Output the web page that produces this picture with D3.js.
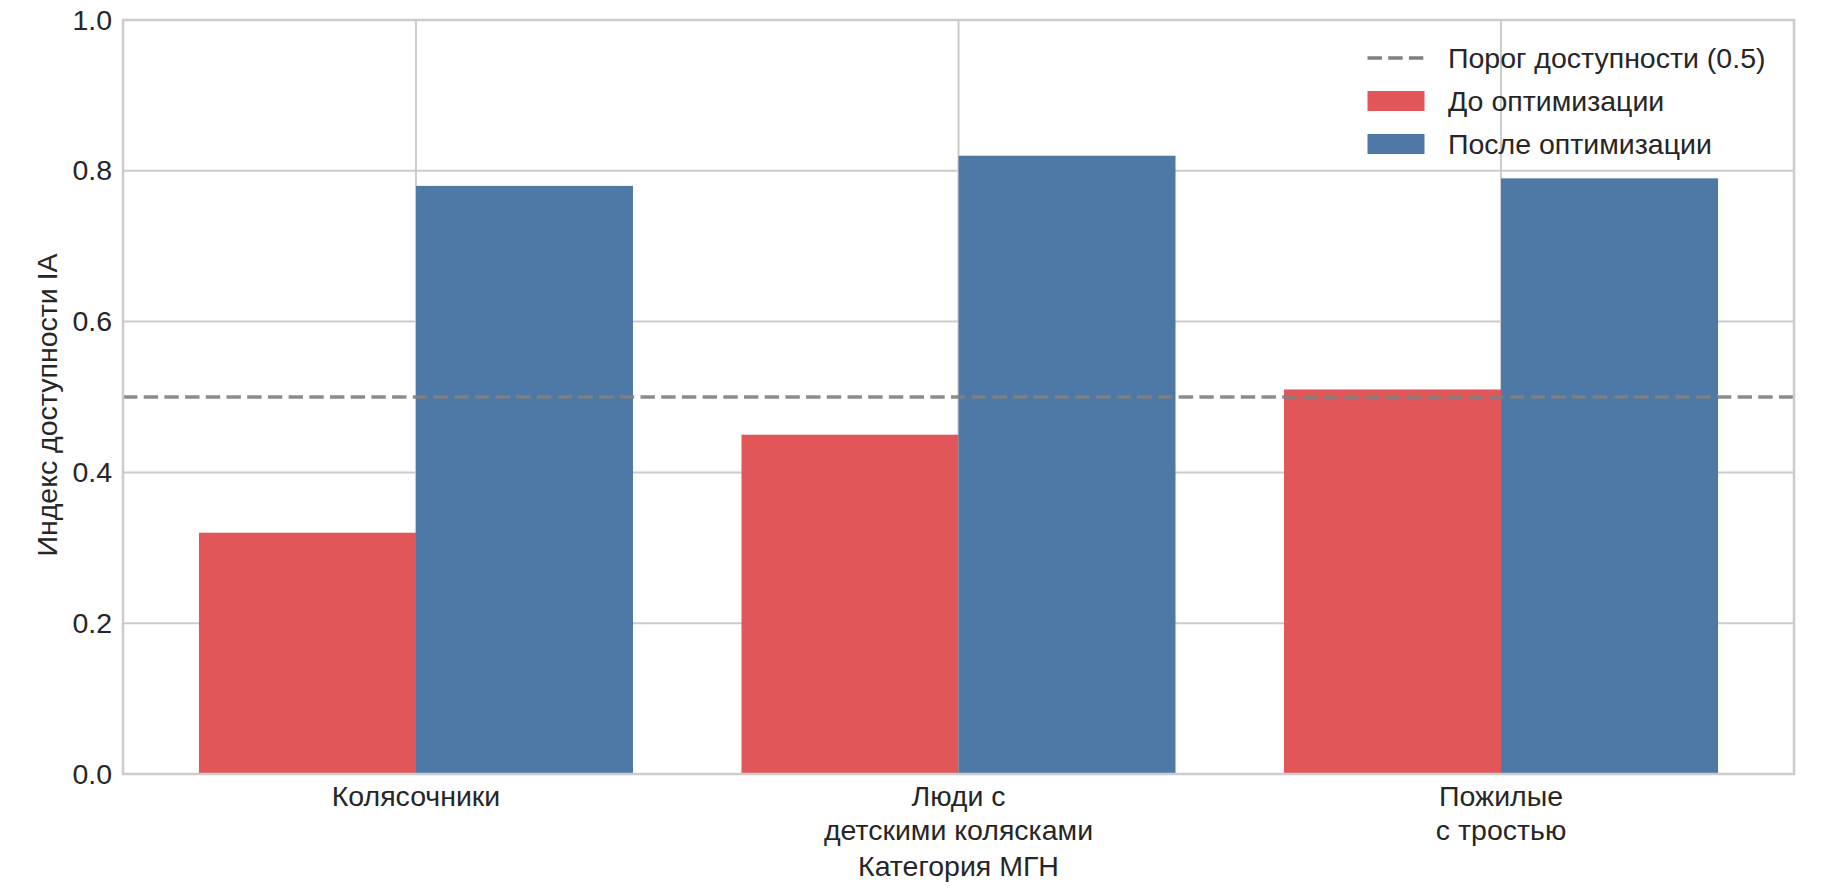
<!DOCTYPE html>
<html>
<head>
<meta charset="utf-8">
<script src="https://cdn.jsdelivr.net/npm/d3@7"></script>
<style>
  body { margin: 0; background: #fff; }
  svg text { font-family: "Liberation Sans", Arial, sans-serif; fill: #262626; }
</style>
</head>
<body>
<div id="chart"></div>
<script>
// ---------------------------------------
// data
const categories = ["Колясочники", "Люди с\nдетскими колясками", "Пожилые\nс тростью"];
const beforeValues = [0.32, 0.45, 0.51];
const afterValues = [0.78, 0.82, 0.79];
const seriesNames = ["До оптимизации", "После оптимизации"];
const thresholdValue = 0.5;
const thresholdLabel = "Порог доступности (0.5)";
const yTicks = [0.0, 0.2, 0.4, 0.6, 0.8, 1.0];
const xTitle = "Категория МГН";
const yTitle = "Индекс доступности IA";

const colors = {before: "#e15759", after: "#4e79a7"};
const fontSize = "28.5px";
const dashPattern = "14.4,6.3";

// ---------------------------------------
// svg params
const margin = {top: 20, right: 37, bottom: 117, left: 123};
const width = 1831 - margin.left - margin.right;
const height = 891 - margin.top - margin.bottom;

const svg = d3.select("#chart")
    .append("svg")
    .attr("width", width + margin.left + margin.right)
    .attr("height", height + margin.top + margin.bottom)
    .append("g")
    .attr("transform", "translate(" + margin.left + "," + margin.top + ")");

// scales
const x0 = d3.scaleBand()
    .domain(categories)
    .range([0, width])
    .paddingInner(0.2)
    .paddingOuter(0.14);

const x1 = d3.scaleBand()
    .domain(["before", "after"])
    .range([0, x0.bandwidth()]);

const y = d3.scaleLinear()
    .domain([0, 1])
    .range([height, 0]);

// ---------------------------------------
// grid (behind bars)
svg.append("g")
    .selectAll("line")
    .data(yTicks)
    .enter()
    .append("line")
    .attr("x1", 0)
    .attr("x2", width)
    .attr("y1", (d) => y(d))
    .attr("y2", (d) => y(d))
    .attr("stroke", "#cccccc")
    .attr("stroke-width", 2);

svg.append("g")
    .selectAll("line")
    .data(categories)
    .enter()
    .append("line")
    .attr("x1", (d) => x0(d) + x0.bandwidth()/2)
    .attr("x2", (d) => x0(d) + x0.bandwidth()/2)
    .attr("y1", 0)
    .attr("y2", height)
    .attr("stroke", "#cccccc")
    .attr("stroke-width", 2);

// ---------------------------------------
// bars
const rows = categories.map((c, i) => ({cat: c, before: beforeValues[i], after: afterValues[i]}));

const group = svg.append("g")
    .selectAll("g")
    .data(rows)
    .enter()
    .append("g")
    .attr("transform", (d) => "translate(" + x0(d.cat) + ",0)");

group.selectAll("rect")
    .data((d) => ["before", "after"].map((k) => ({key: k, value: d[k]})))
    .enter()
    .append("rect")
    .attr("x", (d) => x1(d.key))
    .attr("y", (d) => y(d.value))
    .attr("width", x1.bandwidth())
    .attr("height", (d) => height - y(d.value))
    .attr("fill", (d) => colors[d.key]);

// threshold line
svg.append("line")
    .attr("x1", 0)
    .attr("x2", width)
    .attr("y1", y(thresholdValue))
    .attr("y2", y(thresholdValue))
    .attr("stroke", "#808080")
    .attr("stroke-opacity", 0.9)
    .attr("stroke-width", 3.6)
    .attr("stroke-dasharray", dashPattern);

// ---------------------------------------
// axes
const yAxis = svg.append("g")
    .call(d3.axisLeft(y).tickValues(yTicks).tickFormat(d3.format(".1f")).tickSize(0).tickPadding(11));
yAxis.select(".domain").remove();
yAxis.selectAll("text").style("font-size", fontSize).attr("fill", "#262626");

const xAxis = svg.append("g")
    .attr("transform", "translate(0," + height + ")")
    .call(d3.axisBottom(x0).tickSize(0).tickPadding(12));
xAxis.select(".domain").remove();
xAxis.selectAll("text")
    .style("font-size", fontSize)
    .attr("fill", "#262626")
    .attr("dy", null)
    .each(function(d) {
      const t = d3.select(this);
      const lines = d.split("\n");
      t.text(null);
      lines.forEach((line, i) => {
        t.append("tspan")
            .attr("x", 0)
            .attr("dy", i === 0 ? "0.71em" : "1.2em")
            .text(line);
      });
    });

// frame
svg.append("rect")
    .attr("width", width)
    .attr("height", height)
    .attr("fill", "none")
    .attr("stroke", "#cccccc")
    .attr("stroke-width", 2.5);

// axis titles
svg.append("text")
    .attr("x", width/2)
    .attr("y", 876 - margin.top)
    .attr("text-anchor", "middle")
    .style("font-size", fontSize)
    .text(xTitle);

svg.append("text")
    .attr("transform", "translate(" + (56.5 - margin.left) + "," + (height/2 + 8) + ") rotate(-90)")
    .attr("text-anchor", "middle")
    .style("font-size", fontSize)
    .text(yTitle);

// ---------------------------------------
// legend
const legendItems = [
  {label: thresholdLabel, type: "line"},
  {label: seriesNames[0], type: "before"},
  {label: seriesNames[1], type: "after"}
];

const legend = svg.append("g")
    .attr("transform", "translate(" + (1367.5 - margin.left) + "," + (58 - margin.top) + ")");

const item = legend.selectAll("g")
    .data(legendItems)
    .enter()
    .append("g")
    .attr("transform", (d, i) => "translate(0," + i*43 + ")");

item.each(function(d) {
  const g = d3.select(this);
  if (d.type === "line") {
    g.append("line")
        .attr("x1", 0)
        .attr("x2", 57)
        .attr("stroke", "#808080")
        .attr("stroke-width", 3.6)
        .attr("stroke-dasharray", dashPattern);
  } else {
    g.append("rect")
        .attr("x", 0)
        .attr("y", -10)
        .attr("width", 57)
        .attr("height", 20)
        .attr("fill", colors[d.type]);
  }
});

item.append("text")
    .attr("x", 80.5)
    .attr("dy", "0.35em")
    .style("font-size", fontSize)
    .text((d) => d.label);
</script>
</body>
</html>
